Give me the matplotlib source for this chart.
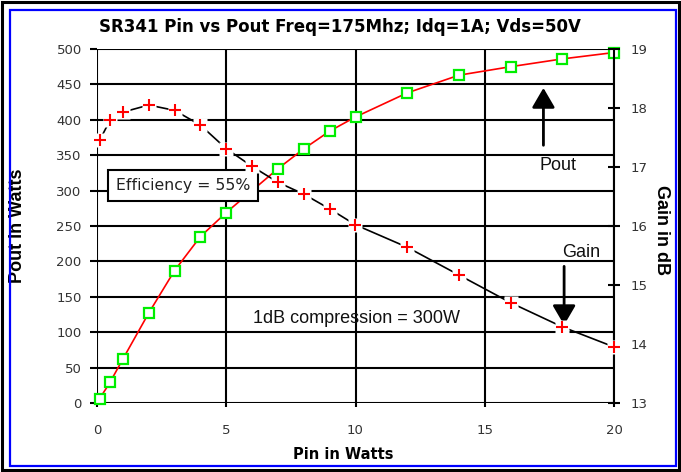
import matplotlib
matplotlib.use("Agg")
import matplotlib.pyplot as plt
from matplotlib.patches import Rectangle

# data
pin_watts = [0.1, 0.5, 1, 2, 3, 4, 5, 6, 7, 8, 9, 10, 12, 14, 16, 18, 20]
pout_watts = [6, 29, 62, 127, 187, 235, 269, 300, 331, 359, 384, 404, 438, 463, 475, 486, 495]
gain_db = [17.45, 17.79, 17.93, 18.05, 17.96, 17.71, 17.31, 17.01, 16.74,
           16.54, 16.29, 16.02, 15.64, 15.17, 14.70, 14.29, 13.95]

pout_ticks = list(range(0, 501, 50))
gain_ticks = [13, 14, 15, 16, 17, 18, 19]
pin_ticks = [0, 5, 10, 15, 20]

title = "SR341 Pin vs Pout Freq=175Mhz; Idq=1A; Vds=50V"
tick_color = "#333333"

fig = plt.figure(figsize=(6.81, 4.72), dpi=100)
ax = fig.add_axes([97 / 681, 1 - 403 / 472, 517 / 681, 354 / 472])
ax2 = ax.twinx()

# outer frames
fig.add_artist(Rectangle((2 / 681, 2 / 472), 677 / 681, 468 / 472, transform=fig.transFigure,
                         fill=False, edgecolor="black", lw=2.2))
fig.add_artist(Rectangle((10 / 681, 6 / 472), 666 / 681, 456 / 472, transform=fig.transFigure,
                         fill=False, edgecolor="#0000ff", lw=1.6))

ax.set_xlim(0, 20)
ax.set_ylim(0, 500)
ax2.set_ylim(13, 19)
ax.set_xticks(pin_ticks)
ax.set_yticks(pout_ticks)
ax2.set_yticks(gain_ticks)

for sp in ["top", "right", "left", "bottom"]:
    ax.spines[sp].set_visible(False)
    ax2.spines[sp].set_visible(False)
ax2.spines["right"].set_visible(True)
ax2.spines["right"].set_linewidth(1.5)

ax.grid(True, color="black", lw=1.5, zorder=0)
ax.set_axisbelow(True)

ax.tick_params(axis="y", direction="out", length=5, width=1.5, pad=6,
               labelsize=9.5, labelcolor=tick_color)
ax.tick_params(axis="x", direction="out", length=3, width=1.5, pad=12,
               labelsize=9.5, labelcolor=tick_color)
ax2.tick_params(axis="y", direction="inout", length=8, width=1.5, pad=8,
                labelsize=9.5, labelcolor=tick_color)

# Pout curve (left axis)
ax.plot(pin_watts, pout_watts, color="#ff0000", lw=1.2, zorder=3,
        marker="s", markersize=6.5, markerfacecolor="white",
        markeredgecolor="#00ee00", markeredgewidth=1.6, clip_on=False)

# Gain curve (right axis), white boxes behind markers break the lines
ax2.plot(pin_watts, gain_db, color="black", lw=1.2, zorder=2)
ax2.plot(pin_watts, gain_db, ls="none", marker="s", markersize=10,
         markerfacecolor="white", markeredgecolor="none", zorder=3, clip_on=False)
ax2.plot(pin_watts, gain_db, ls="none", marker="+", markersize=8,
         markeredgecolor="#ff0000", markeredgewidth=1.5, zorder=4, clip_on=False)

# labels
fig.text(340 / 681, 1 - 27.5 / 472, title, ha="center", va="center",
         fontsize=12, fontweight="bold", family="DejaVu Sans")
ax.set_ylabel("Pout in Watts", fontsize=13, fontweight="bold", family="Liberation Sans")
ax.yaxis.set_label_coords(-0.137, 0.5)
ax2.set_ylabel("Gain in dB", fontsize=13, fontweight="bold", family="Liberation Sans",
               rotation=270, va="center")
ax2.yaxis.set_label_coords(1.092, 0.49)
ax.set_xlabel("Pin in Watts", fontsize=10.5, fontweight="bold", family="DejaVu Sans")
ax.xaxis.set_label_coords(0.477, -0.124)

# annotations
ax.text(0.72, 307, "Efficiency = 55%", fontsize=11.3, family="DejaVu Sans",
        va="center", ha="left", zorder=6, color="#222222",
        bbox=dict(boxstyle="square,pad=0.5", facecolor="white", edgecolor="black", lw=1.5))
ax.text(6.02, 119, "1dB compression = 300W", fontsize=13, family="Liberation Sans",
        va="center", ha="left", color="#111111")
ax.text(17.83, 336, "Pout", fontsize=13, family="Liberation Sans", va="center", ha="center",
        color="#111111")
ax.text(18.72, 212, "Gain", fontsize=13, family="Liberation Sans", va="center", ha="center",
        color="#111111")
arrow = dict(arrowstyle="-|>,head_length=0.6,head_width=0.35", mutation_scale=20,
             color="black", lw=2, shrinkA=0, shrinkB=0)
ax.annotate("", xy=(17.27, 445), xytext=(17.27, 364), arrowprops=arrow, zorder=6)
ax.annotate("", xy=(18.07, 110), xytext=(18.07, 193), arrowprops=arrow, zorder=6)

fig.savefig("out.png", dpi=100)
